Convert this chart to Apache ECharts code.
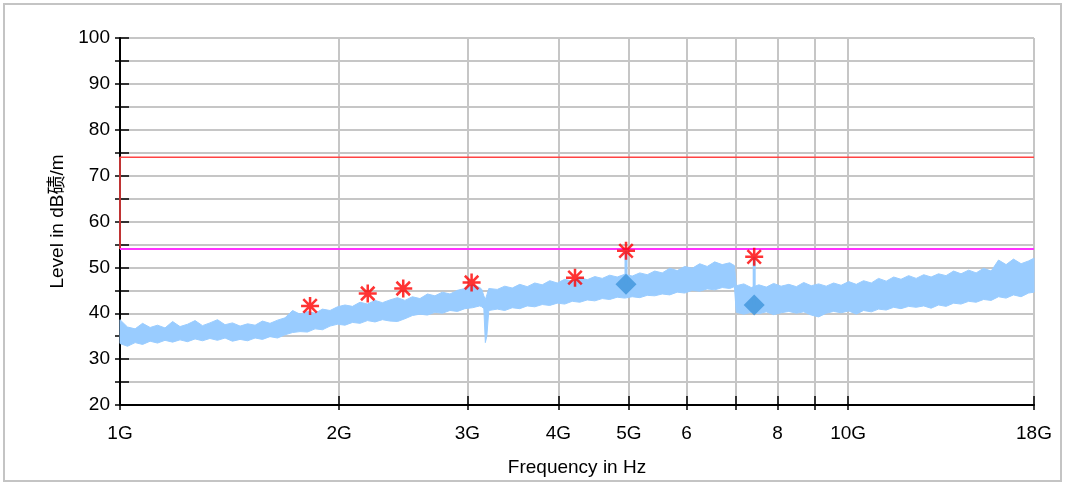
<!DOCTYPE html>
<html>
<head>
<meta charset="utf-8">
<script src="https://cdn.jsdelivr.net/npm/echarts@6/dist/echarts.min.js"></script>
<style>
html, body { margin: 0; padding: 0; background: #fff; }
#chart { width: 1066px; height: 483px; }
</style>
</head>
<body>
<div id="chart"></div>
<script>
// 频谱数据（GHz / dB），从图上读出的上下包络
const bandFreq = [1.000, 1.024, 1.049, 1.074, 1.100, 1.126, 1.153, 1.181, 1.209, 1.238, 1.268, 1.298, 1.329, 1.361, 1.394,
    1.427, 1.462, 1.497, 1.533, 1.569, 1.607, 1.646, 1.685, 1.726, 1.767, 1.809, 1.853, 1.897, 1.943, 1.989,
    2.037, 2.086, 2.136, 2.187, 2.240, 2.293, 2.348, 2.405, 2.462, 2.521, 2.582, 2.644, 2.707, 2.772, 2.839,
    2.907, 2.976, 3.048, 3.120, 3.140, 3.160, 3.175, 3.190, 3.210, 3.297, 3.376, 3.457, 3.540, 3.625, 3.712,
    3.801, 3.892, 3.986, 4.081, 4.179, 4.280, 4.382, 4.488, 4.595, 4.705, 4.818, 4.934, 5.052, 5.174, 5.298,
    5.425, 5.555, 5.688, 5.825, 5.965, 6.108, 6.254, 6.404, 6.558, 6.715, 6.876, 6.980, 7.020, 7.190, 7.360,
    7.540, 7.720, 7.900, 8.090, 8.290, 8.490, 8.690, 8.900, 9.110, 9.330, 9.550, 9.780, 10.02, 10.26, 10.50,
    10.76, 11.01, 11.28, 11.55, 11.82, 12.11, 12.40, 12.70, 13.00, 13.31, 13.63, 13.96, 14.29, 14.64, 14.99,
    15.35, 15.72, 16.09, 16.48, 16.87, 17.28, 17.69, 18.00];
const bandLow = [33.4, 32.8, 33.6, 33.2, 33.9, 33.5, 34.1, 33.7, 34.2, 33.8, 34.4, 34.0, 34.5, 34.1, 34.6,
    33.9, 34.3, 34.0, 34.6, 34.3, 34.9, 34.6, 35.3, 35.8, 36.0, 35.9, 36.6, 36.4, 37.2, 37.6,
    37.4, 38.0, 37.8, 38.4, 38.1, 38.6, 38.3, 38.2, 38.8, 39.5, 39.8, 39.6, 40.2, 40.0, 40.6,
    40.4, 41.0, 41.2, 41.6, 41.4, 41.0, 33.6, 35.0, 40.6, 40.9, 40.6, 41.2, 41.0, 41.6, 41.4,
    41.9, 41.7, 42.2, 42.0, 42.6, 42.4, 42.9, 42.7, 43.2, 43.0, 43.5, 43.3, 43.6, 43.4, 43.9,
    43.8, 44.2, 44.0, 44.6, 44.4, 45.0, 44.8, 45.3, 45.1, 45.6, 45.4, 45.8, 40.2, 39.8, 40.2,
    39.9, 40.3, 39.7, 40.1, 40.4, 40.0, 40.3, 39.6, 39.2, 40.0, 40.4, 40.1, 40.5, 39.8, 40.6,
    40.3, 40.9, 40.7, 41.3, 41.0, 41.5, 41.3, 41.6, 41.1, 41.8, 41.5, 42.2, 42.0, 42.6, 42.4,
    43.0, 42.8, 43.6, 43.3, 44.0, 43.6, 44.4, 44.6];
const bandHigh = [38.6, 37.0, 36.6, 37.8, 36.9, 37.4, 36.8, 38.2, 37.1, 37.6, 38.4, 37.3, 37.9, 38.6, 37.5,
    37.9, 37.2, 37.7, 37.4, 38.3, 37.8, 38.5, 39.0, 40.6, 39.8, 40.4, 40.0, 40.9, 40.6, 41.4,
    41.8, 41.5, 42.4, 42.0, 42.8, 42.3, 42.9, 43.4, 42.8, 43.6, 43.2, 44.2, 43.8, 44.6, 44.2,
    45.0, 45.4, 46.2, 45.6, 45.2, 43.8, 43.0, 44.0, 45.4, 45.2, 45.9, 45.5, 46.3, 45.8, 46.6,
    46.2, 47.1, 46.6, 47.4, 47.0, 47.8, 47.3, 48.0, 47.6, 48.3, 47.9, 48.5, 48.1, 48.8, 48.4,
    49.2, 48.8, 49.8, 49.3, 50.2, 49.8, 50.8, 50.2, 51.2, 50.6, 51.0, 50.4, 46.0, 46.4, 45.6,
    46.2, 45.7, 46.5, 45.9, 46.3, 45.8, 46.7, 46.0, 46.4, 45.9, 46.6, 46.1, 46.9, 46.3, 47.1,
    46.6, 47.6, 47.0, 47.9, 47.4, 48.2, 47.6, 48.4, 47.9, 48.6, 48.2, 49.2, 48.6, 49.4, 48.8,
    49.8, 49.2, 51.6, 50.6, 51.8, 50.8, 51.4, 52.0];

// 峰值（红色星号）和平均值（蓝色菱形）
const peakFreq = [1.824, 2.189, 2.449, 3.04, 4.216, 4.954, 7.43];
const peakLevel = [41.6, 44.3, 45.4, 46.7, 47.75, 53.6, 52.3];
const avgFreq = [4.954, 7.43];
const avgLevel = [46.3, 41.8];

// 限值线
const limitPeakFreq = [1, 1, 18];
const limitPeakLevel = [54, 74, 74];
const limitAvgFreq = [1, 18];
const limitAvgLevel = [54, 54];

// 坐标轴刻度
const xTickValues = [1, 2, 3, 4, 5, 6, 7, 8, 9, 10, 18];
const xTickLabels = ['1G', '2G', '3G', '4G', '5G', '6', '', '8', '', '10G', '18G'];
const yMin = 20, yMax = 100;

const lg = Math.log10;
const FONT = '"Liberation Sans", Arial, "Noto Sans CJK SC", sans-serif';
const BAND = '#99ccff';
const STAR = 'path://M8.6,0h2.8v20h-2.8z M0,8.6h20v2.8h-20z M1.5,3.5L3.5,1.5L18.5,16.5L16.5,18.5z M16.5,1.5L18.5,3.5L3.5,18.5L1.5,16.5z';

const pts = (fs, vs) => fs.map((f, i) => [lg(f), vs[i]]);
const xTicks = xTickValues.map(lg);
const xLabel = function (v) {
    let best = 0;
    xTicks.forEach((t, i) => { if (Math.abs(t - v) < Math.abs(xTicks[best] - v)) best = i; });
    return xTickLabels[best];
};

const chart = echarts.init(document.getElementById('chart'));

const stems = avgFreq.map((f, i) => ({
    type: 'line',
    data: [[lg(f), peakLevel[peakFreq.indexOf(f)]], [lg(f), avgLevel[i]]],
    symbol: 'none',
    lineStyle: { color: BAND, width: 3 },
    silent: true,
    z: 3
}));

// 频谱带：上包络正向 + 下包络反向，组成一个多边形
const bandSeries = {
    type: 'custom',
    data: bandFreq.map((f, i) => [lg(f), bandLow[i], bandHigh[i]]),
    encode: { x: 0, y: [1, 2] },
    silent: true,
    z: 2,
    renderItem: function (params, api) {
        if (params.dataIndex !== 0) return null;
        const upper = bandFreq.map((f, i) => api.coord([lg(f), bandHigh[i]]));
        const lower = bandFreq.map((f, i) => api.coord([lg(f), bandLow[i]])).reverse();
        return {
            type: 'polygon',
            shape: { points: upper.concat(lower) },
            style: { fill: BAND, stroke: BAND, lineWidth: 1 }
        };
    }
};

const xBase = {
    type: 'value',
    min: 0,
    max: lg(18),
    position: 'bottom',
    axisLine: { onZero: false }
};
const yBase = {
    type: 'value',
    min: yMin,
    max: yMax,
    interval: 5,
    position: 'left'
};

chart.setOption({
    animation: false,
    grid: { left: 120, right: 32, top: 38, bottom: 78 },
    graphic: [{
        type: 'rect',
        shape: { x: 4, y: 4, width: 1057, height: 477 },
        style: { fill: 'none', stroke: '#c4c4c4', lineWidth: 2 },
        silent: true
    }],
    xAxis: [
        Object.assign({}, xBase, {
            name: 'Frequency in Hz',
            nameLocation: 'middle',
            nameGap: 53,
            nameTextStyle: { fontFamily: FONT, fontSize: 19, color: '#000' },
            axisLine: { onZero: false, lineStyle: { color: '#000', width: 2 } },
            axisTick: { show: true, length: 5, customValues: xTicks, lineStyle: { color: '#000', width: 1.5 } },
            axisLabel: { customValues: xTicks, formatter: xLabel, margin: 19, fontFamily: FONT, fontSize: 19, color: '#000' },
            splitLine: { show: true, lineStyle: { color: '#c6c6c6', width: 2 } }
        }),
        Object.assign({}, xBase, {
            axisLine: { show: false, onZero: false },
            axisTick: { show: true, inside: true, length: 9, customValues: xTicks, lineStyle: { color: '#000', width: 1.5 } },
            axisLabel: { show: false },
            splitLine: { show: false }
        })
    ],
    yAxis: [
        Object.assign({}, yBase, {
            name: 'Level in dB碛/m',
            nameLocation: 'middle',
            nameGap: 53,
            nameTextStyle: { fontFamily: FONT, fontSize: 19, color: '#000' },
            axisLine: { show: true, onZero: false, lineStyle: { color: '#000', width: 2 } },
            axisTick: { show: true, length: 5, lineStyle: { color: '#000', width: 1.5 } },
            axisLabel: {
                margin: 10, fontFamily: FONT, fontSize: 19, color: '#000',
                formatter: v => (v % 10 === 0 ? String(v) : '')
            },
            splitLine: { show: true, lineStyle: { color: '#c6c6c6', width: 2 } }
        }),
        Object.assign({}, yBase, {
            axisLine: { show: false, onZero: false },
            axisTick: { show: true, inside: true, length: 9, lineStyle: { color: '#000', width: 1.5 } },
            axisLabel: { show: false },
            splitLine: { show: false }
        })
    ],
    series: [
        bandSeries,
        {
            type: 'line',
            data: pts(limitPeakFreq, limitPeakLevel),
            symbol: 'none',
            lineStyle: { color: '#ff4444', width: 1.5 },
            silent: true,
            z: 4
        },
        {
            type: 'line',
            data: pts(limitAvgFreq, limitAvgLevel),
            symbol: 'none',
            lineStyle: { color: '#ff33ff', width: 2 },
            silent: true,
            z: 4
        }
    ].concat(stems, [
        {
            type: 'scatter',
            data: pts(avgFreq, avgLevel),
            symbol: 'diamond',
            symbolSize: 21,
            itemStyle: { color: '#3d94db' },
            silent: true,
            z: 5
        },
        {
            type: 'scatter',
            data: pts(peakFreq, peakLevel),
            symbol: STAR,
            symbolSize: 18,
            itemStyle: { color: '#ff0000' },
            silent: true,
            z: 6
        }
    ])
});
</script>
</body>
</html>
